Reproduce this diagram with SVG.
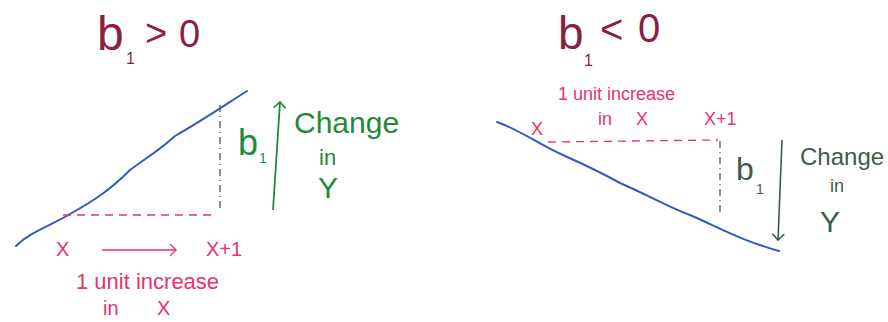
<svg xmlns="http://www.w3.org/2000/svg" width="888" height="322" viewBox="0 0 888 322">
<style>
  text { font-family: "Liberation Sans", "DejaVu Sans", sans-serif; }
  .title { fill: #8a1f45; }
  .pink { fill: #e8336b; }
  .green { fill: #1f8a3a; }
  .dgreen { fill: #3f5a4a; }
  .blue { fill: none; stroke: #3558c4; stroke-width: 2; stroke-linecap: round; stroke-linejoin: round; }
  .pdash { fill: none; stroke: #e8336b; stroke-width: 1.3; stroke-dasharray: 8 6; }
  .vdash { fill: none; stroke: #4a5a4a; stroke-width: 1.3; stroke-dasharray: 7 4 1 4; }
</style>
<defs>
  <marker id="openG" markerWidth="14" markerHeight="14" refX="7" refY="7" orient="auto" markerUnits="userSpaceOnUse">
    <path d="M1,1 L7,7 L1,13" fill="none" stroke="#1f8a3a" stroke-width="1.6"/>
  </marker>
  <marker id="openD" markerWidth="14" markerHeight="14" refX="7" refY="7" orient="auto" markerUnits="userSpaceOnUse">
    <path d="M1,1 L7,7 L1,13" fill="none" stroke="#3f5a4a" stroke-width="1.6"/>
  </marker>
  <marker id="openP" markerWidth="14" markerHeight="14" refX="7" refY="7" orient="auto" markerUnits="userSpaceOnUse">
    <path d="M1,1 L7,7 L1,13" fill="none" stroke="#e8336b" stroke-width="1.4"/>
  </marker>
</defs>

<g id="left-panel">
  <g id="left-title" class="title">
    <text x="97" y="50" font-size="48">b</text>
    <text x="126" y="64" font-size="16">1</text>
    <text x="145" y="46" font-size="38">&gt;</text>
    <text x="179" y="47" font-size="38">0</text>
  </g>
  <path class="blue" d="M16,246 C30,232 50,226 70,214 C95,200 110,190 130,170 C150,155 160,150 175,136 C200,122 225,105 247,91"/>
  <path class="pdash" d="M63,215 L213,215"/>
  <path class="vdash" d="M220,105 L220,210"/>
  <g id="left-b1" class="green">
    <text x="238" y="155" font-size="36">b</text>
    <text x="259" y="163" font-size="14">1</text>
  </g>
  <path d="M273,210 L280,102" fill="none" stroke="#1f8a3a" stroke-width="1.8" marker-end="url(#openG)"/>
  <g id="left-change" class="green">
    <text x="294" y="133" font-size="30">Change</text>
    <text x="319" y="165" font-size="22">in</text>
    <text x="318" y="198" font-size="30">Y</text>
  </g>
  <g id="left-x" class="pink">
    <text x="56" y="256" font-size="20">X</text>
    <text x="206" y="256" font-size="20">X+1</text>
    <text x="76" y="289" font-size="22">1 unit increase</text>
    <text x="103" y="315" font-size="20">in</text>
    <text x="157" y="315" font-size="20">X</text>
  </g>
  <path d="M102,250 L176,250" fill="none" stroke="#e8336b" stroke-width="1.4" marker-end="url(#openP)"/>
</g>

<g id="right-panel">
  <g id="right-title" class="title">
    <text x="558" y="49" font-size="46">b</text>
    <text x="584" y="66" font-size="16">1</text>
    <text x="600" y="43" font-size="40">&lt;</text>
    <text x="638" y="42" font-size="40">0</text>
  </g>
  <g id="right-x" class="pink">
    <text x="558" y="100" font-size="18">1 unit increase</text>
    <text x="598" y="125" font-size="18">in</text>
    <text x="636" y="125" font-size="18">X</text>
    <text x="704" y="125" font-size="18">X+1</text>
    <text x="531" y="135" font-size="18">X</text>
  </g>
  <path class="blue" d="M497,122 C520,130 540,145 565,156 C590,167 600,172 620,183 C650,196 670,208 690,215 C720,228 740,240 779,251"/>
  <path class="pdash" d="M548,142 L718,140"/>
  <path class="vdash" d="M720,141 L720,215"/>
  <g id="right-b1" class="dgreen">
    <text x="736" y="180" font-size="32">b</text>
    <text x="756" y="194" font-size="14">1</text>
  </g>
  <path d="M782,140 L778,240" fill="none" stroke="#3f5a4a" stroke-width="1.6" marker-end="url(#openD)"/>
  <g id="right-change" class="dgreen">
    <text x="800" y="165" font-size="24">Change</text>
    <text x="830" y="192" font-size="18">in</text>
    <text x="820" y="232" font-size="30">Y</text>
  </g>
</g>
</svg>
